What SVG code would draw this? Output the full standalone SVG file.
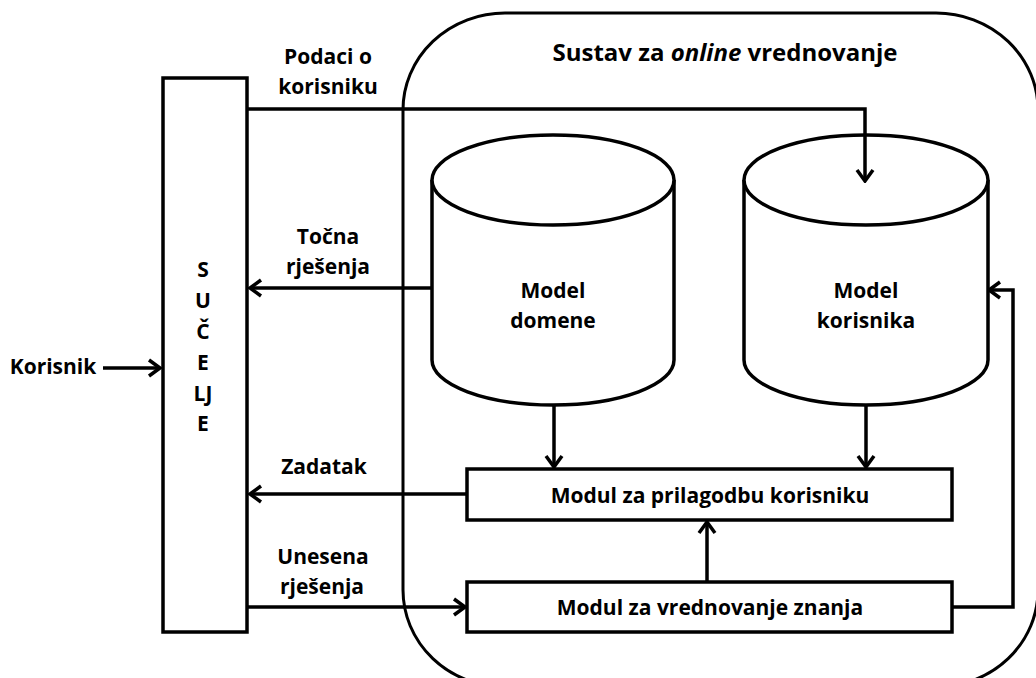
<svg xmlns="http://www.w3.org/2000/svg" width="1036" height="678" viewBox="0 0 1036 678">
<style>
.shape{fill:#fff;stroke:#000;stroke-width:3.5}
.line{fill:none;stroke:#000;stroke-width:3.5}
text{font-family:"Open Sans","Liberation Sans",sans-serif;font-weight:bold;font-size:21px;fill:#000;text-anchor:middle}
.title{font-size:24px}
</style>
<defs>
<marker id="arr" markerUnits="userSpaceOnUse" markerWidth="16" markerHeight="20" viewBox="0 0 16 20" refX="14" refY="10" orient="auto">
<path d="M3,2 L14,10 L3,18" fill="none" stroke="#000" stroke-width="3.5"/>
</marker>
</defs>
<rect x="0" y="0" width="1036" height="678" fill="#fff"/>
<g id="system">
<rect x="403" y="13" width="635" height="674" rx="102" ry="97" fill="none" stroke="#000" stroke-width="3"/>
<text class="title" x="725" y="61">Sustav za <tspan font-style="italic">online</tspan> vrednovanje</text>
</g>
<g id="interface">
<rect class="shape" x="163" y="78" width="84" height="554"/>
<text x="203" y="277">S</text>
<text x="203" y="308">U</text>
<text x="203" y="339">Č</text>
<text x="203" y="370">E</text>
<text x="203" y="401">LJ</text>
<text x="203" y="431">E</text>
</g>
<g id="user">
<text x="53" y="374">Korisnik</text>
</g>
<g id="model-domene">
<path class="shape" d="M432,180 V360 A121,45 0 0 0 674,360 V180"/>
<ellipse class="shape" cx="553" cy="180" rx="121" ry="45"/>
<text x="553" y="298">Model</text>
<text x="553" y="328">domene</text>
</g>
<g id="model-korisnika">
<path class="shape" d="M744,180 V360 A122,45 0 0 0 988,360 V180"/>
<ellipse class="shape" cx="866" cy="180" rx="122" ry="45"/>
<text x="866" y="298">Model</text>
<text x="866" y="328">korisnika</text>
</g>
<g id="modul-prilagodba">
<rect class="shape" x="467" y="469" width="485" height="51"/>
<text x="710" y="503">Modul za prilagodbu korisniku</text>
</g>
<g id="modul-vrednovanje">
<rect class="shape" x="467" y="582" width="485" height="50"/>
<text x="710" y="615">Modul za vrednovanje znanja</text>
</g>
<g id="connectors">
<path class="line" d="M247,109 H865 V181" marker-end="url(#arr)"/>
<path class="line" d="M432,288 H250" marker-end="url(#arr)"/>
<path class="line" d="M103,368 H160" marker-end="url(#arr)"/>
<path class="line" d="M467,494 H250" marker-end="url(#arr)"/>
<path class="line" d="M247,607 H465" marker-end="url(#arr)"/>
<path class="line" d="M554,405 V467" marker-end="url(#arr)"/>
<path class="line" d="M866,405 V467" marker-end="url(#arr)"/>
<path class="line" d="M707,582 V522" marker-end="url(#arr)"/>
<path class="line" d="M952,607 H1013 V290 H989" marker-end="url(#arr)"/>
<text x="328" y="64">Podaci o</text>
<text x="328" y="94">korisniku</text>
<text x="328" y="244">Točna</text>
<text x="328" y="274">rješenja</text>
<text x="324" y="474">Zadatak</text>
<text x="323" y="564">Unesena</text>
<text x="322" y="594">rješenja</text>
</g>
</svg>
